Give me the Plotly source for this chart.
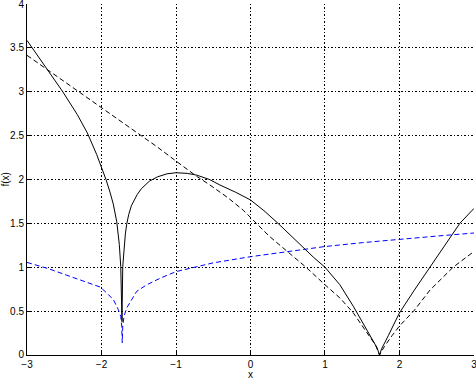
import plotly.graph_objects as go

# Solid black curve
solid_x = [-3.0, -2.714, -2.52, -2.325, -2.19, -2.065, -2.0, -1.94, -1.886, -1.842,
           -1.796, -1.761, -1.742, -1.735, -1.729, -1.725, -1.722, -1.715, -1.698, -1.68,
           -1.662, -1.635, -1.6, -1.56, -1.52, -1.46, -1.358, -1.25, -1.12, -1.0, -0.85,
           -0.722, -0.55, -0.41, -0.2, 0.0, 0.18, 0.37, 0.55, 0.70, 0.85, 1.0, 1.2, 1.38,
           1.56, 1.65, 1.70, 1.732, 1.76, 1.85, 2.0, 2.2, 2.41, 2.6, 2.81, 3.0]
solid_y = [3.585, 3.244, 3.0, 2.74, 2.53, 2.285, 2.146, 2.0, 1.855, 1.72,
           1.52, 1.26, 1.01, 0.75, 0.50, 0.38, 0.6, 1.01, 1.22, 1.38,
           1.49, 1.6, 1.7, 1.77, 1.83, 1.9, 1.98, 2.03, 2.065, 2.077, 2.07,
           2.05, 2.0, 1.937, 1.855, 1.767, 1.645, 1.50, 1.35, 1.225, 1.11, 1.0, 0.80, 0.555,
           0.29, 0.16, 0.08, 0.0, 0.07, 0.22, 0.48, 0.74, 1.0, 1.24, 1.50, 1.67]

# Dashed black curve
dash_x = [-3.0, -2.714, -2.4, -2.0, -1.75, -1.483, -1.25, -1.0, -0.856, -0.72, -0.544,
          -0.3, -0.097, 0.0, 0.077, 0.25, 0.48, 0.745, 1.0, 1.2, 1.38, 1.60, 1.68, 1.732,
          1.8, 1.9, 2.0, 2.2, 2.41, 2.72, 3.0]
dash_y = [3.415, 3.244, 3.05, 2.81, 2.665, 2.51, 2.37, 2.21, 2.12, 2.035, 1.937,
          1.79, 1.65, 1.565, 1.5, 1.355, 1.19, 1.0, 0.80, 0.65, 0.48, 0.21, 0.11, 0.0,
          0.10, 0.22, 0.33, 0.51, 0.74, 1.0, 1.18]

# Blue dashed curve
blue_x = [-3.0, -2.7, -2.42, -2.2, -2.02, -1.93, -1.84, -1.775, -1.742, -1.729, -1.722,
          -1.715, -1.698, -1.662, -1.595, -1.528, -1.393, -1.2, -1.0, -0.5, 0.0, 0.5,
          1.0, 1.5, 2.0, 2.5, 3.0]
blue_y = [1.055, 0.98, 0.895, 0.83, 0.775, 0.707, 0.63, 0.517, 0.44, 0.33, 0.14,
          0.33, 0.44, 0.536, 0.63, 0.725, 0.80, 0.88, 0.95, 1.05, 1.12, 1.18,
          1.236, 1.28, 1.32, 1.355, 1.39]

x_ticks = [-3, -2, -1, 0, 1, 2, 3]
x_tick_labels = ["\u22123", "\u22122", "\u22121", "0", "1", "2", "3"]
y_ticks = [0, 0.5, 1, 1.5, 2, 2.5, 3, 3.5, 4]
y_tick_labels = ["0", "0.5", "1", "1.5", "2", "2.5", "3", "3.5", "4"]

fig = go.Figure()
fig.add_trace(go.Scatter(x=blue_x, y=blue_y, mode="lines",
                         line=dict(color="#0000ff", width=1, dash="5px,3px")))
fig.add_trace(go.Scatter(x=dash_x, y=dash_y, mode="lines",
                         line=dict(color="black", width=1, dash="5px,3px")))
fig.add_trace(go.Scatter(x=solid_x, y=solid_y, mode="lines",
                         line=dict(color="black", width=1)))

grid = dict(showgrid=True, gridcolor="black", gridwidth=1, griddash="1px,2px,2px,2px",
            automargin=False, showline=True, linecolor="black", linewidth=1,
            zeroline=False, ticks="inside", ticklen=4, tickcolor="black",
            ticklabeloverflow="allow")
fig.update_xaxes(range=[-3.0004, 3.0004], tickvals=x_ticks, ticktext=x_tick_labels, **grid)
fig.update_yaxes(range=[-0.0003, 4.0003], tickvals=y_ticks, ticktext=y_tick_labels, **grid)
fig.update_layout(width=476, height=380, showlegend=False,
                  margin=dict(l=27, r=2, t=4, b=25),
                  plot_bgcolor="white", paper_bgcolor="white",
                  font=dict(family="Liberation Sans, Arial, sans-serif", size=10, color="black"),
                  annotations=[
                      dict(text="x", xref="paper", yref="paper", x=0.5, y=-0.0555,
                           xanchor="center", yanchor="middle", showarrow=False,
                           font=dict(size=10)),
                      dict(text="f(x)", xref="paper", yref="paper", x=-0.049, y=0.5,
                           xanchor="center", yanchor="middle", showarrow=False,
                           textangle=-90, font=dict(size=10)),
                  ])
fig.write_html("out.html", config={"displayModeBar": False},
               post_script="document.body.style.margin='0';document.body.style.overflow='hidden';")
